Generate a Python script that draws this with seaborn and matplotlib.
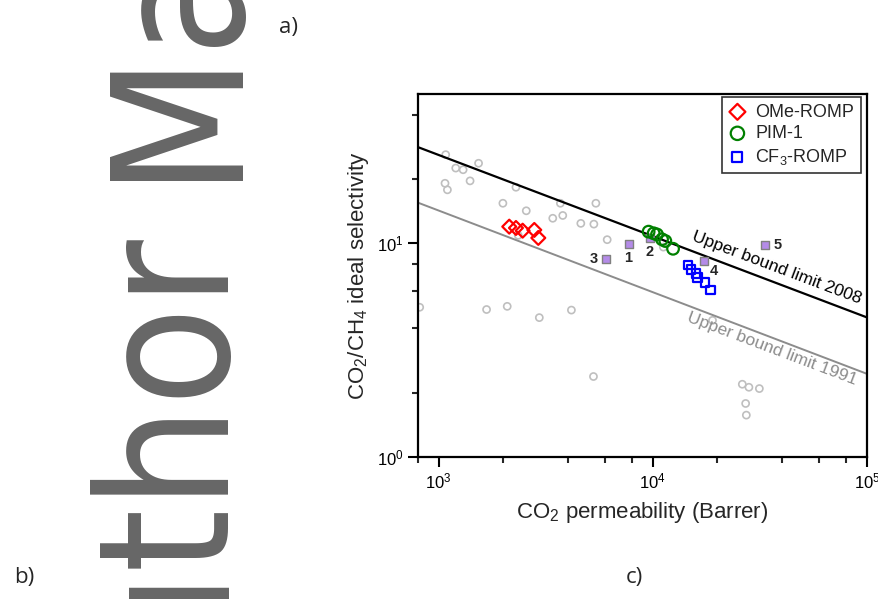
import seaborn as sns
import matplotlib.pyplot as plt
import matplotlib.ticker as mticker

# literature data (grey open circles)
lit_perm = [1078, 1201, 1300, 1535, 1070, 1098, 1401, 2295, 1994, 2564, 3700, 5420,
            3409, 3796, 4610, 5304, 6121, 2352, 11200, 815, 1673, 2089, 2950, 4166,
            5281, 19000, 26170, 28100, 31440, 27130, 27330]
lit_sel = [26.0, 22.5, 22.1, 23.7, 19.1, 17.8, 19.6, 18.3, 15.4, 14.2, 15.4, 15.4,
           13.1, 13.5, 12.4, 12.3, 10.4, 10.9, 9.6, 5.02, 4.9, 5.07, 4.49, 4.87,
           2.38, 4.36, 2.19, 2.12, 2.09, 1.78, 1.57]

ome_perm = [2135, 2295, 2466, 2795, 2918]
ome_sel = [11.97, 11.8, 11.46, 11.55, 10.6]

pim_perm = [9557, 10090, 10460, 11040, 11440, 12430]
pim_sel = [11.34, 11.14, 11.0, 10.44, 10.25, 9.43]

cf3_perm = [14580, 15070, 15900, 16160, 17520, 18530]
cf3_sel = [7.91, 7.52, 7.20, 6.94, 6.54, 6.05]

num_labels = ["1", "2", "3", "4", "5"]
num_perm = [7703, 9661, 6055, 17420, 33400]
num_sel = [9.89, 10.56, 8.47, 8.26, 9.79]
num_offsets = [(0, -10), (0, -10), (-9, 0), (6.5, -7.5), (9, 0)]

# upper bound lines (end points)
ub2008_perm = [800, 100000]
ub2008_sel = [28.2, 4.5]
ub1991_perm = [800, 100000]
ub1991_sel = [15.5, 2.45]

sns.set_style("ticks")
plt.rcParams['font.family'] = ['Liberation Sans', 'DejaVu Sans']
plt.rcParams['mathtext.fontset'] = 'custom'
plt.rcParams['mathtext.rm'] = 'Liberation Sans'
plt.rcParams['mathtext.it'] = 'Liberation Sans:italic'
plt.rcParams['mathtext.bf'] = 'Liberation Sans:bold'
plt.rcParams['mathtext.default'] = 'regular'

fig = plt.figure(figsize=(8.79, 5.99), dpi=100)

# background watermark and panel letters
wm = dict(rotation=90, rotation_mode='anchor', va='baseline', fontsize=130,
          family='DejaVu Sans', fontstretch='condensed', color='#666666')
fig.text(228 / 879, 1 - 180 / 599, "Manuscript", ha='left', **wm)
fig.text(228 / 879, 1 - 237 / 599, "Author", ha='right', **wm)
fig.text(279 / 879, 1 - 28 / 599, "a)", fontsize=16, family='Open Sans', va='center')
fig.text(14 / 879, 1 - 577 / 599, "b)", fontsize=16, family='Open Sans', va='center')
fig.text(626 / 879, 1 - 577 / 599, "c)", fontsize=16, family='Open Sans', va='center')

ax = fig.add_axes([0.4755, 0.2371, 0.5108, 0.6060])
ax.set_xscale('log')
ax.set_yscale('log')

sns.lineplot(x=ub2008_perm, y=ub2008_sel, color='black', lw=1.6, ax=ax, zorder=2)
sns.lineplot(x=ub1991_perm, y=ub1991_sel, color='#8c8c8c', lw=1.4, ax=ax, zorder=2)

sns.scatterplot(x=lit_perm, y=lit_sel, marker='o', s=26, facecolor='none',
                edgecolor='#bfbfbf', linewidth=1.2, ax=ax, zorder=1)
sns.scatterplot(x=num_perm, y=num_sel, marker='s', s=36, color='#b48be8',
                edgecolor='#808080', linewidth=1.0, ax=ax, zorder=3)
sns.scatterplot(x=ome_perm, y=ome_sel, marker='D', s=50, facecolor='none',
                edgecolor='red', linewidth=1.6, ax=ax, zorder=4, label='OMe-ROMP')
sns.scatterplot(x=pim_perm, y=pim_sel, marker='o', s=70, facecolor='none',
                edgecolor='green', linewidth=1.6, ax=ax, zorder=4, label='PIM-1')
sns.scatterplot(x=cf3_perm, y=cf3_sel, marker='s', s=40, facecolor='none',
                edgecolor='blue', linewidth=1.6, ax=ax, zorder=4, label='CF$_3$-ROMP')

for lab, xp, yp, off in zip(num_labels, num_perm, num_sel, num_offsets):
    ax.annotate(lab, (xp, yp), xytext=off, textcoords='offset points',
                ha='center', va='center', fontsize=10.5, fontweight='bold')

ax.text(38090, 7.69, "Upper bound limit 2008", rotation=-20.7, rotation_mode='anchor',
        ha='center', va='center', fontsize=12.5, color='black')
ax.text(36080, 3.20, "Upper bound limit 1991", rotation=-20.7, rotation_mode='anchor',
        ha='center', va='center', fontsize=12.5, color='#8c8c8c')

ax.set_xlim(800, 1e5)
ax.set_ylim(1, 50)
ax.xaxis.set_major_locator(mticker.LogLocator(base=10))
ax.xaxis.set_minor_locator(mticker.LogLocator(base=10, subs=[2, 4, 6, 8]))
ax.yaxis.set_major_locator(mticker.LogLocator(base=10))
ax.yaxis.set_minor_locator(mticker.LogLocator(base=10, subs=[2, 4, 6, 8]))
ax.xaxis.set_minor_formatter(mticker.NullFormatter())
ax.yaxis.set_minor_formatter(mticker.NullFormatter())

for sp in ax.spines.values():
    sp.set_linewidth(1.6)
    sp.set_color('black')
ax.tick_params(which='major', direction='out', length=7, width=1.5, labelsize=12,
               top=False, right=False, colors='black')
ax.tick_params(which='minor', direction='out', length=4, width=1.5, top=False, right=False)

ax.set_xlabel("CO$_2$ permeability (Barrer)", fontsize=16, labelpad=6)
ax.set_ylabel("CO$_2$/CH$_4$ ideal selectivity", fontsize=16, labelpad=4)

leg = ax.legend(loc='upper right', bbox_to_anchor=(0.986, 0.991), borderaxespad=0,
                fontsize=13, frameon=True, fancybox=False, handletextpad=0.5,
                handlelength=1.0, borderpad=0.35, labelspacing=0.25, markerscale=1.15)
leg.get_frame().set_edgecolor('black')
leg.get_frame().set_linewidth(1.2)

plt.savefig("out.png", dpi=100)
